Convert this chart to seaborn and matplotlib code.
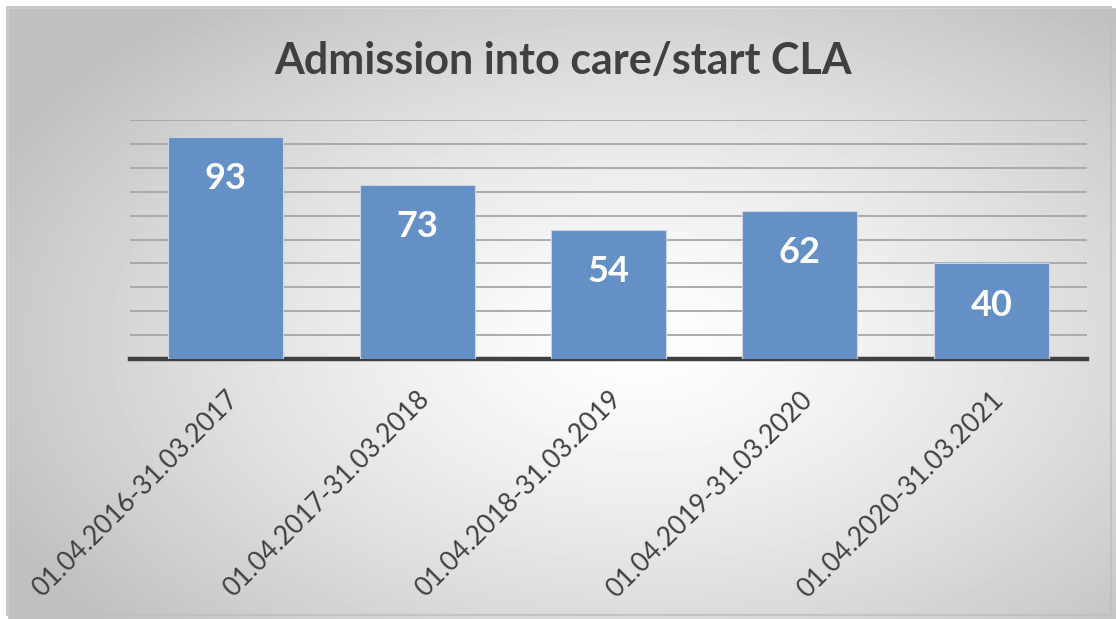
import numpy as np
import pandas as pd
import seaborn as sns
import matplotlib.pyplot as plt
from matplotlib.patches import Rectangle

periods = ['01.04.2016-31.03.2017', '01.04.2017-31.03.2018', '01.04.2018-31.03.2019',
           '01.04.2019-31.03.2020', '01.04.2020-31.03.2021']
admissions = [93, 73, 54, 62, 40]
title = 'Admission into care/start CLA'

df = pd.DataFrame({'period': periods, 'admissions': admissions})

sns.set_theme(style='white')
plt.rcParams['font.family'] = ['Lato', 'DejaVu Sans']

W, H = 1116, 619
fig = plt.figure(figsize=(W / 100, H / 100), dpi=100)
fig.patch.set_facecolor('white')

# radial grey background like the spreadsheet chart area
bg = fig.add_axes([0, 0, 1, 1], zorder=-10)
yy, xx = np.mgrid[0:H, 0:W]
r = np.sqrt(((xx - 640) / 720) ** 2 + ((yy - 340) / 430) ** 2)
shade = np.clip(1.0 - 0.25 * r ** 1.3, 0.75, 1.0)
bg.imshow(shade, cmap='gray', vmin=0, vmax=1, extent=[0, W, H, 0], aspect='auto')
bg.set_xlim(0, W)
bg.set_ylim(H, 0)
bg.axis('off')
bg.add_patch(Rectangle((0, 0), W, 7, color='white', zorder=2))
bg.add_patch(Rectangle((0, 0), 7, H, color='white', zorder=2))
bg.add_patch(Rectangle((7, 7), W - 12, H - 11, fill=False, ec='#bfbfbf', lw=1.2, zorder=3))

ax = fig.add_axes([130 / W, 1 - 359 / H, (1087 - 130) / W, (359 - 120) / H])
ax.patch.set_alpha(0)
sns.barplot(data=df, x='period', y='admissions', color='#6490c6', width=0.6,
            saturation=1, edgecolor='#c9d6e8', linewidth=0.8, ax=ax, zorder=3)

ax.set_ylim(0, 100)
ax.set_xlim(-0.5, 4.5)
ax.set_yticks(np.arange(10, 101, 10))
ax.yaxis.grid(True, color='#a6a6a6', linewidth=1.3, zorder=0)
ax.set_axisbelow(True)
ax.tick_params(axis='y', left=False, labelleft=False)
ax.tick_params(axis='x', bottom=False, pad=14)
for side in ['top', 'right', 'left']:
    ax.spines[side].set_visible(False)
ax.spines['bottom'].set_color('#404040')
ax.spines['bottom'].set_linewidth(3.2)
ax.set_xlabel('')
ax.set_ylabel('')
ax.set_xticks(range(len(periods)))
ax.set_xticklabels(periods, rotation=45, ha='right', rotation_mode='anchor',
                   fontsize=19, color='#404040')

for i, v in enumerate(admissions):
    ax.annotate(str(v), (i, v), xytext=(0, -30), textcoords='offset points',
                ha='center', va='center', fontsize=26, fontweight='bold', color='white')

fig.text(563 / W, 1 - 61 / H, title, ha='center', va='center', fontsize=31,
         fontweight='bold', color='#404040')

fig.savefig('out.png', dpi=100)
